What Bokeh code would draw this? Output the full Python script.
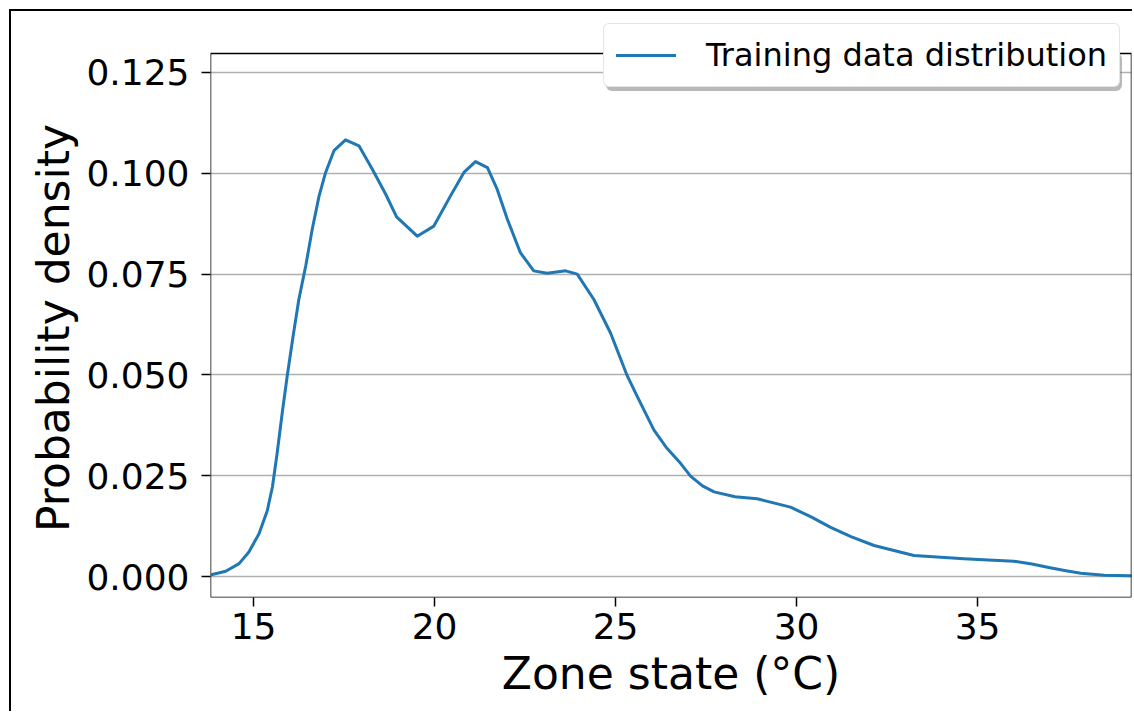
from bokeh.plotting import figure
from bokeh.models import FixedTicker, NumeralTickFormatter, Legend, LegendItem, Range1d, BoxAnnotation
from bokeh.embed import file_html
from bokeh.resources import INLINE

# Data (KDE of training data)
zone_temp = [13.86, 14.23, 14.60, 14.87, 15.15, 15.38, 15.52, 15.65, 15.79, 15.93,
             16.09, 16.25, 16.44, 16.62, 16.81, 16.99, 17.22, 17.54, 17.91, 18.28,
             18.65, 18.95, 19.52, 19.98, 20.44, 20.81, 21.13, 21.46, 21.73, 22.01,
             22.37, 22.74, 23.11, 23.62, 23.94, 24.40, 24.86, 25.32, 25.60, 26.06,
             26.40, 26.80, 27.07, 27.40, 27.72, 28.30, 28.91, 29.83, 30.40, 30.94,
             31.50, 32.14, 33.24, 34.62, 35.30, 36.00, 36.50, 36.93, 37.40, 37.85,
             38.50, 39.23]
density = [0.0005, 0.0013, 0.0032, 0.0061, 0.0106, 0.0164, 0.0222, 0.0305, 0.0405, 0.0498,
           0.0595, 0.0687, 0.0770, 0.0861, 0.0944, 0.1002, 0.1056, 0.1083, 0.1068, 0.1010,
           0.0948, 0.0892, 0.0844, 0.0869, 0.0944, 0.1002, 0.1029, 0.1014, 0.0960, 0.0886,
           0.0803, 0.0758, 0.0752, 0.0758, 0.0750, 0.0687, 0.0604, 0.0498, 0.0446, 0.0363,
           0.0320, 0.0280, 0.0249, 0.0225, 0.0210, 0.0198, 0.0193, 0.0172, 0.0148, 0.0122,
           0.0099, 0.0077, 0.0052, 0.0044, 0.0041, 0.0038, 0.0031, 0.0023, 0.0015, 0.0008,
           0.0003, 0.0002]
x_ticks = [15, 20, 25, 30, 35]
y_ticks = [0.0, 0.025, 0.05, 0.075, 0.1, 0.125]
x_lo, x_hi = 13.81, 39.25
y_lo, y_hi = -0.0052, 0.1297
series_label = "Training data distribution"
x_label = "Zone state (°C)"
y_label = "Probability density"

FONT = "DejaVu Sans"

# frame extends 37px above the axes' top edge so the legend (which overlaps
# the top spine in the reference) is not clipped; spines are drawn as a box.
AX_H = 544
EXTRA_TOP = 37
y_top = y_hi + (y_hi - y_lo) * EXTRA_TOP / AX_H

# trailing no-break spaces re-centre the rotated label on the visible axes
p = figure(width=1123, height=702, output_backend="svg", toolbar_location=None,
           x_range=Range1d(x_lo, x_hi), y_range=Range1d(y_lo, y_top),
           min_border_left=199, min_border_right=3, min_border_top=5, min_border_bottom=116,
           x_axis_label=x_label, y_axis_label=y_label + "\u00a0" * 3)
p.styles = {"margin-left": "9px", "margin-top": "9px",
            "border-top": "2px solid black", "border-left": "2px solid black"}

line = p.line(zone_temp, density, line_color="#1f77b4", line_width=3,
              line_join="round", line_cap="round")

p.outline_line_color = None
p.background_fill_color = "white"
p.border_fill_color = "white"

p.xgrid.visible = False
p.ygrid.grid_line_color = "#b0b0b0"
p.ygrid.grid_line_width = 1.5

p.xaxis.ticker = FixedTicker(ticks=x_ticks)
p.yaxis.ticker = FixedTicker(ticks=y_ticks)
p.yaxis.formatter = NumeralTickFormatter(format="0.000")

for ax in (p.xaxis, p.yaxis):
    ax.axis_line_color = None
    ax.major_tick_line_color = "black"
    ax.major_tick_line_width = 1.5
    ax.major_tick_in = 0
    ax.major_tick_out = 9
    ax.minor_tick_line_color = None
    ax.major_label_text_font = FONT
    ax.major_label_text_font_size = "36px"
    ax.major_label_text_color = "black"
    ax.axis_label_text_font = FONT
    ax.axis_label_text_font_size = "44px"
    ax.axis_label_text_font_style = "normal"
    ax.axis_label_text_color = "black"
p.xaxis.major_label_standoff = 6
p.yaxis.major_label_standoff = 12
p.xaxis.axis_label_standoff = 6
p.yaxis.axis_label_standoff = 4

spines = BoxAnnotation(left=x_lo, right=x_hi, bottom=y_lo, top=y_hi,
                       fill_alpha=0, fill_color=None,
                       line_color="black", line_width=1.5, line_alpha=1)
p.add_layout(spines)


def make_legend(loc, label):
    lg = Legend(items=[LegendItem(label=label, renderers=[line])], location=loc)
    lg.label_text_font = FONT
    lg.label_text_font_size = "32px"
    lg.label_text_color = "black"
    lg.glyph_width = 60
    lg.glyph_height = 34
    lg.label_standoff = 30
    lg.padding = 12
    lg.margin = 0
    if "border_radius" in Legend.properties():
        lg.border_radius = 6
    return lg


# drop shadow behind the legend (blank label, same box size)
shadow = make_legend((396, 506), "\u00a0")
shadow.label_width = 426
shadow.border_line_color = None
shadow.background_fill_color = "#7f7f7f"
shadow.background_fill_alpha = 0.55
shadow.label_text_alpha = 0
p.add_layout(shadow, "center")

legend = make_legend((393, 510), series_label)
legend.border_line_color = "#cccccc"
legend.border_line_width = 1.5
legend.background_fill_color = "white"
legend.background_fill_alpha = 1.0
p.add_layout(legend, "center")

open("out.html", "w").write(file_html(p, INLINE))
